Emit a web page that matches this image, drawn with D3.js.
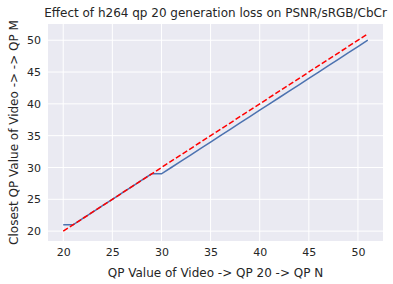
<!DOCTYPE html>
<html>
<head>
<meta charset="utf-8">
<script src="https://cdn.jsdelivr.net/npm/d3@7"></script>
<style>
  body { margin: 0; background: #fff; }
  text { font-family: "DejaVu Sans", sans-serif; fill: #262626; }
</style>
</head>
<body>
<div id="chart"></div>
<script>
// QP N values on the x axis
var qpN = [20, 21, 22, 23, 24, 25, 26, 27, 28, 29, 30, 31, 32, 33, 34, 35,
           36, 37, 38, 39, 40, 41, 42, 43, 44, 45, 46, 47, 48, 49, 50, 51];
// closest QP M found for each N
var closestQp = [21, 21, 22, 23, 24, 25, 26, 27, 28, 29, 29, 30, 31, 32, 33, 34,
                 35, 36, 37, 38, 39, 40, 41, 42, 43, 44, 45, 46, 47, 48, 49, 50];
// identity reference line
var identity = [20, 51];
var xTicks = [20, 25, 30, 35, 40, 45, 50];
var yTicks = [20, 25, 30, 35, 40, 45, 50];

var W = 393, H = 284;
var margin = {top: 24, right: 10, bottom: 43, left: 48};
var width = W - margin.left - margin.right;
var height = H - margin.top - margin.bottom;

var svg = d3.select("#chart")
  .append("svg")
  .attr("width", W)
  .attr("height", H)
  .append("g")
  .attr("transform", "translate(" + margin.left + "," + margin.top + ")");

// matplotlib style 5% margins
var x = d3.scaleLinear().domain([18.45, 52.55]).range([0, width]);
var y = d3.scaleLinear().domain([18.45, 52.55]).range([height, 0]);

svg.append("rect")
  .attr("width", width)
  .attr("height", height)
  .attr("fill", "#EAEAF2");

// grid
svg.append("g").selectAll("line").data(xTicks).join("line")
  .attr("x1", d => x(d)).attr("x2", d => x(d))
  .attr("y1", 0).attr("y2", height)
  .attr("stroke", "#fff").attr("stroke-width", 1);
svg.append("g").selectAll("line").data(yTicks).join("line")
  .attr("y1", d => y(d)).attr("y2", d => y(d))
  .attr("x1", 0).attr("x2", width)
  .attr("stroke", "#fff").attr("stroke-width", 1);

// axes
var xAxis = svg.append("g")
  .attr("transform", "translate(0," + height + ")")
  .call(d3.axisBottom(x).tickValues(xTicks).tickSize(0).tickPadding(7));
var yAxis = svg.append("g")
  .call(d3.axisLeft(y).tickValues(yTicks).tickSize(0).tickPadding(7));
[xAxis, yAxis].forEach(function(a) {
  a.select(".domain").remove();
  a.selectAll("text").style("font-size", "11px").attr("fill", "#262626")
    .style("font-family", "DejaVu Sans, sans-serif");
});

// lines
svg.append("path")
  .datum(qpN)
  .attr("fill", "none")
  .attr("stroke", "#4C72B0")
  .attr("stroke-width", 1.5)
  .attr("d", d3.line()
    .x(function(d) { return x(d); })
    .y(function(d, i) { return y(closestQp[i]); }));

svg.append("path")
  .datum(identity)
  .attr("fill", "none")
  .attr("stroke", "#FF0000")
  .attr("stroke-width", 1.5)
  .attr("stroke-dasharray", "5.5,2.4")
  .attr("d", d3.line()
    .x(function(d) { return x(d); })
    .y(function(d) { return y(d); }));

// labels
svg.append("text")
  .attr("x", width / 2)
  .attr("y", -7)
  .attr("text-anchor", "middle")
  .style("font-size", "12px")
  .text("Effect of h264 qp 20 generation loss on PSNR/sRGB/CbCr");

svg.append("text")
  .attr("x", width / 2)
  .attr("y", height + 36)
  .attr("text-anchor", "middle")
  .style("font-size", "12px")
  .text("QP Value of Video -> QP 20 -> QP N");

svg.append("text")
  .attr("transform", "rotate(-90)")
  .attr("x", -height / 2)
  .attr("y", -30)
  .attr("text-anchor", "middle")
  .style("font-size", "12px")
  .text("Closest QP Value of Video -> -> QP M");
</script>
</body>
</html>
